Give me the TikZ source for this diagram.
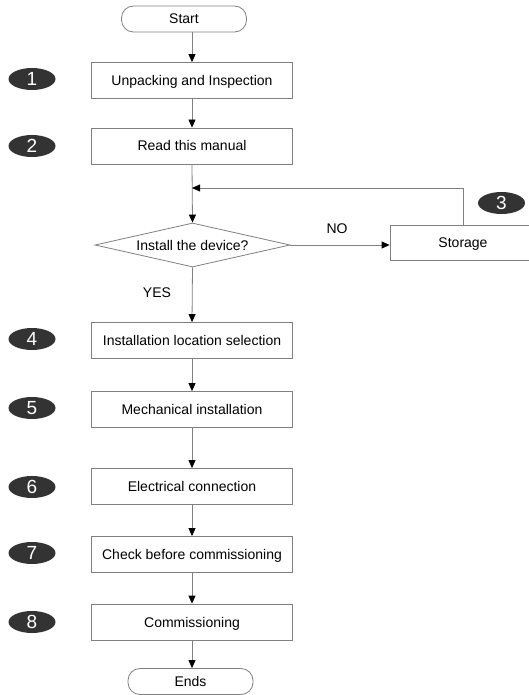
\documentclass[tikz,border=0pt]{standalone}
\usepackage{fontspec}
\setmainfont{Liberation Sans}
\usetikzlibrary{arrows.meta,shapes.geometric}
\definecolor{linegray}{HTML}{808080}
\definecolor{badgefill}{HTML}{333333}
\begin{document}
\begin{tikzpicture}[x=1pt,y=-1pt,
  every node/.style={font=\fontsize{14}{16}\selectfont, inner sep=0pt, text height=10pt, text depth=0pt},
  stepbox/.style={draw=linegray, line width=0.8pt, minimum width=201pt, minimum height=36pt},
  pill/.style={draw=linegray, line width=0.8pt, rounded corners=12pt, minimum width=125pt, minimum height=26pt},
  decision/.style={draw=linegray, line width=0.8pt, diamond, aspect=4.4, minimum width=195pt, minimum height=44pt},
  badge/.style={ellipse, fill=badgefill, minimum width=47pt, minimum height=22pt, text=white, font=\fontsize{19}{20}\selectfont, text height=13.6pt, text depth=0pt},
  arr/.style={draw=linegray, line width=0.8pt, -{Triangle[length=8pt,width=7pt,color=black]}},
  lbl/.style={font=\fontsize{14}{16}\selectfont}
]
\useasboundingbox (0,0) rectangle (529,695);
\node[pill] (start) at (184,19) {Start};
\node[stepbox] (b1) at (192,80.5) {Unpacking and Inspection};
\node[stepbox] (b2) at (192,146) {Read this manual};
\node[decision] (dia) at (192.5,245) {Install the device?};
\node[stepbox, minimum width=146pt, minimum height=35pt] (storage) at (463,242.5) {Storage};
\node[stepbox] (b4) at (192,340.5) {Installation location selection};
\node[stepbox] (b5) at (192,409.5) {Mechanical installation};
\node[stepbox] (b6) at (192,486.5) {Electrical connection};
\node[stepbox] (b7) at (192,554.5) {Check before commissioning};
\node[stepbox] (b8) at (192,622) {Commissioning};
\node[pill] (ends) at (190.5,681.5) {Ends};

\node[badge] (n1) at (32,79) {1};
\node[badge] (n2) at (32,146) {2};
\node[badge] (n3) at (501.5,203) {3};
\node[badge] (n4) at (32,339) {4};
\node[badge] (n5) at (32,408) {5};
\node[badge] (n6) at (32,487) {6};
\node[badge] (n7) at (32,553) {7};
\node[badge] (n8) at (32,622) {8};

\node[lbl] (no) at (337,228) {NO};
\node[lbl] (yes) at (157,292) {YES};

\coordinate (merge) at (192,188);

\draw[arr] (b1.north |- start.south) -- (b1.north);
\draw[arr] (b1.south) -- (b2.north);
\draw[arr] (b2.south) -- (dia.north);
\draw[arr] (storage.north) |- (merge);
\draw[arr] (dia.east) -- (dia.east -| storage.west);
\draw[arr] (dia.south) -- (b4.north);
\draw[arr] (b4.south) -- (b5.north);
\draw[arr] (b5.south) -- (b6.north);
\draw[arr] (b6.south) -- (b7.north);
\draw[arr] (b7.south) -- (b8.north);
\draw[arr] (b8.south) -- (b8.south |- ends.north);
\end{tikzpicture}
\end{document}
